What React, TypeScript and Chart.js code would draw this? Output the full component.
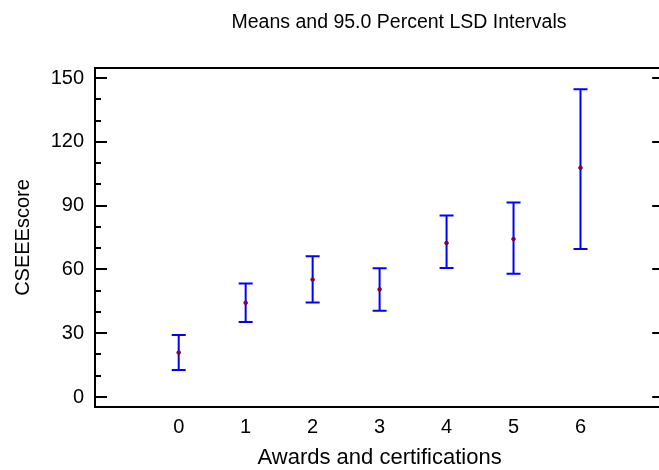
import React, { useEffect, useRef } from "react";
import { Chart, registerables } from "chart.js";

Chart.register(...registerables);

const chartTitle = "Means and 95.0 Percent LSD Intervals";
const xTitle = "Awards and certifications";
const yTitle = "CSEEEscore";

const categories = [0, 1, 2, 3, 4, 5, 6];
const means = [20.9, 44.3, 55.2, 50.6, 72.4, 74.3, 107.8];
const upper = [29.1, 53.4, 66.2, 60.5, 85.3, 91.4, 144.7];
const lower = [12.7, 35.3, 44.4, 40.6, 60.6, 58.0, 69.6];

const yMajorTicks = [0, 30, 60, 90, 120, 150];
const yMinorTicks = [10, 20, 40, 50, 70, 80, 100, 110, 130, 140];
const yMin = -4.7;
const yMax = 154.7;
const xMin = -1.25;
const xMax = 7.25;

const FONT = '"Liberation Sans", Arial, sans-serif';

const framePlugin = {
  id: "frameAndBars",
  beforeDatasetsDraw(chart: any) {
    const { ctx, scales } = chart;
    const xs = scales.x;
    const ys = scales.y;
    ctx.save();
    ctx.strokeStyle = "#0000ff";
    ctx.lineWidth = 2;
    categories.forEach((c, i) => {
      const x = xs.getPixelForValue(c);
      const yt = ys.getPixelForValue(upper[i]);
      const yb = ys.getPixelForValue(lower[i]);
      ctx.beginPath();
      ctx.moveTo(x, yt);
      ctx.lineTo(x, yb);
      ctx.moveTo(x - 7, yt);
      ctx.lineTo(x + 7, yt);
      ctx.moveTo(x - 7, yb);
      ctx.lineTo(x + 7, yb);
      ctx.stroke();
    });
    ctx.restore();
  },
  afterDraw(chart: any) {
    const { ctx, chartArea, scales } = chart;
    const ys = scales.y;
    const { left, right, top, bottom } = chartArea;
    ctx.save();
    ctx.strokeStyle = "#000";
    ctx.lineWidth = 2;
    ctx.beginPath();
    ctx.moveTo(left, top);
    ctx.lineTo(right + 2, top);
    ctx.moveTo(left, top - 1);
    ctx.lineTo(left, bottom + 1);
    ctx.moveTo(left, bottom);
    ctx.lineTo(right + 2, bottom);
    ctx.stroke();
    ctx.beginPath();
    yMajorTicks.forEach((v) => {
      const y = Math.round(ys.getPixelForValue(v));
      ctx.moveTo(left, y);
      ctx.lineTo(left + 12, y);
      ctx.moveTo(right, y);
      ctx.lineTo(right - 12, y);
    });
    yMinorTicks.forEach((v) => {
      const y = Math.round(ys.getPixelForValue(v));
      ctx.moveTo(left, y);
      ctx.lineTo(left + 6, y);
    });
    ctx.stroke();
    ctx.fillStyle = "#000";
    ctx.font = `19.5px ${FONT}`;
    ctx.textAlign = "center";
    ctx.textBaseline = "middle";
    ctx.fillText(chartTitle, 399, 23);
    ctx.restore();
  },
};

export default function App() {
  const ref = useRef<HTMLCanvasElement>(null);
  useEffect(() => {
    if (!ref.current) return;
    const chart = new Chart(ref.current, {
      type: "scatter",
      data: {
        datasets: [
          {
            data: categories.map((c, i) => ({ x: c, y: means[i] })),
            backgroundColor: "#800040",
            borderColor: "#800040",
            pointRadius: 1.8,
            pointHoverRadius: 1.8,
          },
        ],
      },
      options: {
        animation: false,
        responsive: false,
        devicePixelRatio: 1,
        layout: { padding: { top: 68, left: 0, right: 2, bottom: 0 } },
        plugins: {
          legend: { display: false },
          tooltip: { enabled: false },
          title: { display: false },
        },
        scales: {
          x: {
            type: "linear",
            min: xMin,
            max: xMax,
            afterBuildTicks: (s: any) => {
              s.ticks = categories.map((v) => ({ value: v }));
            },
            afterFit: (s: any) => {
              s.height = 63;
            },
            grid: { display: false, drawTicks: false },
            border: { display: false },
            ticks: {
              padding: 8,
              color: "#000",
              font: { family: FONT, size: 20 },
              callback: (v: any) => String(v),
            },
            title: {
              display: true,
              text: xTitle,
              color: "#000",
              font: { family: FONT, size: 22 },
              padding: { top: 0, bottom: -1 },
            },
          },
          y: {
            type: "linear",
            min: yMin,
            max: yMax,
            afterBuildTicks: (s: any) => {
              s.ticks = yMajorTicks.map((v) => ({ value: v }));
            },
            afterFit: (s: any) => {
              s.width = 95;
            },
            grid: { display: false, drawTicks: false },
            border: { display: false },
            ticks: {
              padding: 11,
              color: "#000",
              font: { family: FONT, size: 20 },
              callback: (v: any) => String(v),
            },
            title: {
              display: true,
              text: yTitle,
              color: "#000",
              font: { family: FONT, size: 20 },
              padding: { top: 11, bottom: 0 },
            },
          },
        },
      },
      plugins: [framePlugin],
    });
    return () => chart.destroy();
  }, []);
  return (
    <div
      style={{
        position: "absolute",
        left: 0,
        top: 0,
        width: 659,
        height: 470,
        overflow: "hidden",
        background: "#fff",
      }}
    >
      <canvas ref={ref} width={667} height={470} style={{ display: "block" }} />
    </div>
  );
}
